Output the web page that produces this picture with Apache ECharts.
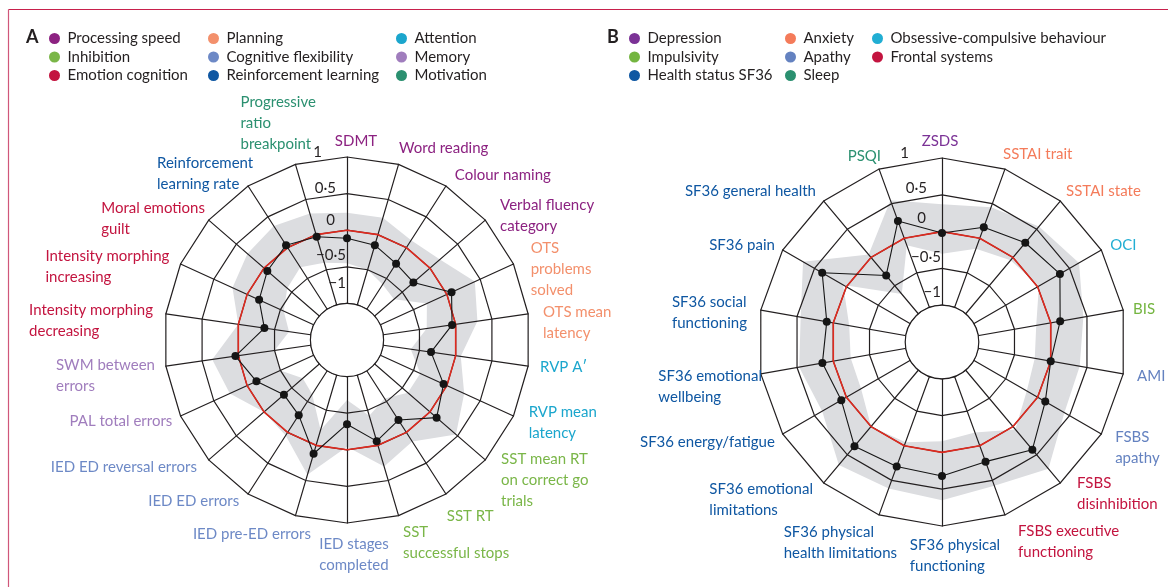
<!DOCTYPE html>
<html><head><meta charset="utf-8">
<script src="https://cdn.jsdelivr.net/npm/echarts@6/dist/echarts.min.js"></script>
<style>html,body{margin:0;padding:0;background:#fff}#c{width:1168px;height:587px}</style>
</head><body><div id="c"></div>
<script>
const FONT = 'Lato, "Open Sans", sans-serif';
const INK = '#231f20';

// ---------- Panel A ----------
const groupsA = ['Processing speed','Inhibition','Emotion cognition','Planning','Cognitive flexibility','Reinforcement learning','Attention','Memory','Motivation'];
const groupColorsA = ['#8c2281','#7ab648','#c3143f','#f3906c','#6d89c6','#0f57a2','#1ba6cd','#a07dbd','#2b9070'];
const catsA = ['SDMT','Word reading','Colour naming','Verbal fluency\ncategory','OTS\nproblems\nsolved','OTS mean\nlatency','RVP A\u2032','RVP mean\nlatency','SST mean RT\non correct go\ntrials','SST RT','SST\nsuccessful stops','IED stages\ncompleted','IED pre-ED errors','IED ED errors','IED ED reversal errors','PAL total errors','SWM between\nerrors','Intensity morphing\ndecreasing','Intensity morphing\nincreasing','Moral emotions\nguilt','Reinforcement\nlearning rate','Progressive\nratio\nbreakpoint'];
const catGroupA = [0,0,0,0,3,3,6,6,1,1,1,4,4,4,4,7,7,2,2,2,5,8];
const valuesA = [-0.11,-0.15,-0.26,-0.30,0.07,-0.05,-0.34,-0.05,0.12,-0.20,-0.06,-0.35,0.12,-0.28,-0.36,-0.14,0.04,-0.36,-0.18,-0.06,0.04,-0.03];
const upperA  = [0.24,0.24,0.12,0.18,0.42,0.30,0.07,0.26,0.47,0.15,0.30,-0.04,0.42,0.05,0.00,0.26,0.36,0.00,0.22,0.30,0.35,0.30];
const lowerA  = [-0.45,-0.50,-0.60,-0.65,-0.30,-0.40,-0.62,-0.40,-0.40,-0.55,-0.42,-0.68,-0.22,-0.62,-0.70,-0.50,-0.50,-0.70,-0.55,-0.42,-0.32,-0.40];
const controlA = [0,0,0,0,0,0,0,0,0,0,0,0,0,0,0,0,0,0,0,0,0,0];

// ---------- Panel B ----------
const groupsB = ['Depression','Impulsivity','Health status SF36','Anxiety','Apathy','Sleep','Obsessive-compulsive behaviour','Frontal systems'];
const groupColorsB = ['#7b3296','#74b540','#0f57a2','#f47b5a','#6482c0','#2b9070','#21aed3','#c3143f'];
const catsB = ['ZSDS','SSTAI trait','SSTAI state','OCI','BIS','AMI','FSBS\napathy','FSBS\ndisinhibition','FSBS executive\nfunctioning','SF36 physical\nfunctioning','SF36 physical\nhealth limitations','SF36 emotional\nlimitations','SF36 energy/fatigue','SF36 emotional\nwellbeing','SF36 social\nfunctioning','SF36 pain','SF36 general health','PSQI'];
const catGroupB = [0,3,3,6,1,4,4,7,7,2,2,2,2,2,2,2,2,5];
const valuesB = [-0.02,0.16,0.26,0.35,0.13,0.00,0.12,0.41,0.23,0.32,0.30,0.35,0.08,0.15,0.09,0.38,-0.32,0.25];
const upperB  = [0.37,0.45,0.55,0.65,0.45,0.40,0.42,0.75,0.58,0.65,0.62,0.68,0.38,0.47,0.45,0.68,0.05,0.55];
const lowerB  = [-0.30,-0.15,-0.05,0.02,-0.20,-0.22,-0.17,0.05,-0.19,-0.15,-0.05,0.00,-0.23,-0.24,-0.22,0.05,-0.65,-0.10];
const controlB = [0,0,0,0,0,0,0,0,0,0,0,0,0,0,0,0,0,0];

// ---------- radial scale ----------
const scaleMin = -1.5, scaleMax = 1;
const tickValues = [-1,-0.5,0,0.5,1];
const tickLabels = ['\u22121','\u22120\u00b75','0','0\u00b75','1'];

// ---------- label layout tweaks (text placement only) ----------
// per-indicator nudge [dx, dy] of the axis name from ECharts' default spot
const nameNudgeA = [[9,3.5],[-2,-8],[4,-3],[8,1.5],[9,9],[6,10],[3,0],[7,3],[9,14],[-4,15],[2,18],[7,1.5],[18,10],[-4,0],[-5,1],[0,1],[-2,8],[-4,7.5],[-3,6.5],[3,4.5],[10,-4.5],[23,-33]];
const nameNudgeB = [[-2,3],[-5,-6],[0,-3],[1,0],[1,1],[5,1],[6,9],[11,4],[10,18],[13,0],[21,19],[-5,9.5],[0,4],[10,11],[-5,4],[0,0],[-2,-3],[5,-4]];
// tick label [padRight, padBottom] for -1 .. 1
const tickPadA = [[1,40],[1,24],[12,20],[11,11],[25,10]];
const tickPadB = [[1,26],[1,23],[16,27],[15,14],[33,9]];

// ECharts radar runs anticlockwise: reorder so the reference's clockwise order is kept
const cw = a => [a[0]].concat(a.slice(1).reverse());

const NAME_FS = 15, NAME_LH = 21;
const mctx = document.createElement('canvas').getContext('2d');
mctx.font = NAME_FS + 'px ' + FONT;

function nameFmt(name) {
  return name.split('\n').map(l => '{l|' + l + '}').join('\n');
}

function nameStyle(name, k, n, nudge) {
  const ang = Math.PI / 2 + k * 2 * Math.PI / n;
  const ux = Math.cos(ang), uy = -Math.sin(ang);
  const lines = name.split('\n');
  const w = Math.max.apply(null, lines.map(l => mctx.measureText(l).width));
  const h = lines.length * NAME_LH;
  let cx = 0, cy = 0;
  if (Math.abs(ux) < 1e-3) cy = uy < 0 ? -h / 2 : h / 2;
  else cx = ux > 0 ? w / 2 : -w / 2;
  cx += nudge[0]; cy += nudge[1];
  const ox = 2 * cx, oy = 2 * cy;
  return { align: 'center', verticalAlign: 'middle',
    padding: [Math.max(oy, 0), Math.max(-ox, 0), Math.max(-oy, 0), Math.max(ox, 0)] };
}

function makeRadars(cats, catGroup, colors, center, radius, nudges, tickPad) {
  const n = cats.length;
  const order = cw(cats.map((c, i) => i));
  const indicator = order.map((i, k) => ({
    name: cats[i], min: scaleMin, max: scaleMax, color: colors[catGroup[i]],
    nameTextStyle: nameStyle(cats[i], k, n, nudges[i])
  }));
  const main = {
    center: center, radius: radius, startAngle: 90, shape: 'polygon', splitNumber: 5,
    indicator: indicator, z: 3,
    axisNameGap: 9,
    axisName: { fontSize: NAME_FS, fontFamily: FONT, lineHeight: NAME_LH, formatter: nameFmt,
      rich: { l: { align: 'left', fontSize: NAME_FS, fontFamily: FONT, lineHeight: NAME_LH } } },
    axisLine: { lineStyle: { color: INK, width: 1.2 } },
    splitLine: { lineStyle: { color: INK, width: 1.2 } },
    splitArea: { show: false },
    axisTick: { show: false },
    axisLabel: { show: false }
  };
  const hole = {
    center: center, radius: radius * (tickValues[0] - scaleMin) / (scaleMax - scaleMin),
    startAngle: 90, shape: 'circle', splitNumber: 1, z: 4,
    indicator: cats.map(() => ({ name: '', min: 0, max: 1 })),
    axisName: { show: false },
    axisLine: { show: false }, axisTick: { show: false }, axisLabel: { show: false },
    splitLine: { lineStyle: { color: INK, width: 1.2 } },
    splitArea: { show: true, areaStyle: { color: ['#ffffff'] } }
  };
  // separate invisible radar carrying only the radial tick labels
  const rich = {};
  tickPad.forEach((p, j) => { rich['t' + j] = { padding: [0, p[0], p[1], 0], fontSize: 15, color: INK, fontFamily: FONT }; });
  const ticks = {
    center: center, radius: radius, startAngle: 90, shape: 'polygon', splitNumber: 5, z: 3,
    indicator: order.map((i, k) => {
      const ind = { name: '', min: scaleMin, max: scaleMax };
      if (k === 0) {
        ind.axisLabel = {
          show: true, fontSize: 15, color: INK, fontFamily: FONT, margin: 0, verticalAlign: 'middle', align: 'right',
          rich: rich,
          formatter: v => { const j = tickValues.indexOf(Math.round(v * 2) / 2); return j < 0 ? '' : '{t' + j + '|' + tickLabels[j] + '}'; }
        };
      }
      return ind;
    }),
    axisName: { show: false },
    axisLine: { show: false }, splitLine: { show: false }, splitArea: { show: false },
    axisTick: { show: false }, axisLabel: { show: false }
  };
  return [main, hole, ticks];
}

function makeSeries(radarIndex, values, upper, lower, control) {
  return [
    { type: 'radar', radarIndex, z: 1, silent: true, symbol: 'none',
      lineStyle: { width: 0 }, areaStyle: { color: '#dcdde0', opacity: 1 },
      data: [{ value: cw(upper) }] },
    { type: 'radar', radarIndex, z: 2, silent: true, symbol: 'none',
      lineStyle: { width: 0 }, areaStyle: { color: '#ffffff', opacity: 1 },
      data: [{ value: cw(lower) }] },
    { type: 'radar', radarIndex, z: 5, silent: true, symbol: 'none',
      lineStyle: { color: '#e02a1f', width: 1.6 },
      data: [{ value: cw(control) }] },
    { type: 'radar', radarIndex, z: 6, silent: true, symbol: 'circle', symbolSize: 8,
      itemStyle: { color: '#151515' }, lineStyle: { color: '#151515', width: 1.1 },
      data: [{ value: cw(values) }] }
  ];
}

function legendSeries(groups, colors, radarIndex) {
  return groups.map((g, i) => ({ type: 'radar', radarIndex: radarIndex, name: g, data: [], itemStyle: { color: colors[i] } }));
}

function legendCol(groups, colors, idx, left, top) {
  return {
    orient: 'vertical', left: left, top: top, icon: 'circle', itemWidth: 16, itemHeight: 11, itemGap: 3.5,
    selectedMode: false, padding: 0,
    textStyle: { fontSize: 15, color: INK, fontFamily: FONT },
    data: idx.map(i => ({ name: groups[i], itemStyle: { color: colors[i] } }))
  };
}

const radarsA = makeRadars(catsA, catGroupA, groupColorsA, [347, 340], 183, nameNudgeA, tickPadA);
const radarsB = makeRadars(catsB, catGroupB, groupColorsB, [942, 342], 184, nameNudgeB, tickPadB);

const option = {
  backgroundColor: '#ffffff',
  animation: false,
  title: [
    { text: 'A', left: 26, top: 28, padding: 0, textStyle: { fontSize: 18, fontWeight: 'bold', color: INK, fontFamily: FONT } },
    { text: 'B', left: 607, top: 28, padding: 0, textStyle: { fontSize: 18, fontWeight: 'bold', color: INK, fontFamily: FONT } }
  ],
  legend: [
    legendCol(groupsA, groupColorsA, [0,1,2], 49, 31),
    legendCol(groupsA, groupColorsA, [3,4,5], 208, 31),
    legendCol(groupsA, groupColorsA, [6,7,8], 396, 31),
    legendCol(groupsB, groupColorsB, [0,1,2], 629, 31),
    legendCol(groupsB, groupColorsB, [3,4,5], 785, 31),
    legendCol(groupsB, groupColorsB, [6,7], 872, 31)
  ],
  radar: radarsA.concat(radarsB),
  series: [].concat(
    makeSeries(0, valuesA, upperA, lowerA, controlA),
    makeSeries(3, valuesB, upperB, lowerB, controlB),
    legendSeries(groupsA, groupColorsA, 0),
    legendSeries(groupsB, groupColorsB, 3)
  ),
  graphic: [
    { type: 'line', silent: true, shape: { x1: 8.5, y1: 9.5, x2: 1168, y2: 9.5 }, style: { stroke: '#c8204c', lineWidth: 1.2 } },
    { type: 'line', silent: true, shape: { x1: 8.5, y1: 9.5, x2: 8.5, y2: 587 }, style: { stroke: '#d0577a', lineWidth: 1.2 } }
  ]
};

const chart = echarts.init(document.getElementById('c'), null, { renderer: 'canvas' });
chart.setOption(option);
</script>
</body></html>
